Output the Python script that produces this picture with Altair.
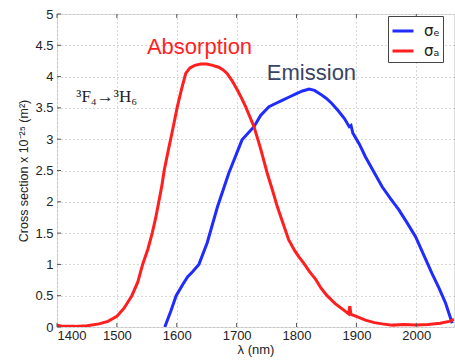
import altair as alt
import pandas as pd

# Absorption cross section (red)
abs_wl = [1400, 1410, 1430, 1450, 1470, 1485, 1500, 1512, 1525, 1535, 1543, 1552, 1559, 1565,
          1570, 1575, 1579, 1586, 1592, 1601, 1608, 1615, 1622, 1630, 1640, 1650, 1660, 1670,
          1677, 1684, 1692, 1701, 1708, 1715, 1729, 1740, 1751, 1760, 1768, 1778, 1787, 1797,
          1804, 1812, 1822, 1832, 1841, 1851, 1865, 1879, 1887, 1889, 1891, 1900, 1915, 1930,
          1943, 1960, 1980, 2000, 2020, 2040, 2055, 2063]
abs_val = [0.03, 0.01, 0.01, 0.02, 0.05, 0.09, 0.17, 0.30, 0.50, 0.72, 1.00, 1.25, 1.50, 1.75,
           2.00, 2.25, 2.50, 2.83, 3.10, 3.52, 3.80, 4.05, 4.14, 4.18, 4.20, 4.20, 4.18, 4.15,
           4.11, 4.05, 3.94, 3.79, 3.66, 3.52, 3.20, 2.85, 2.46, 2.18, 1.92, 1.64, 1.39, 1.22,
           1.12, 1.02, 0.88, 0.76, 0.62, 0.50, 0.37, 0.27, 0.21, 0.33, 0.20, 0.17, 0.11, 0.07,
           0.05, 0.03, 0.04, 0.03, 0.04, 0.06, 0.09, 0.12]

# Emission cross section (blue)
em_wl = [1580, 1590, 1599, 1610, 1618, 1626, 1637, 1651, 1668, 1687, 1709, 1729, 1740, 1754,
         1765, 1776, 1787, 1798, 1810, 1821, 1830, 1840, 1850, 1859, 1870, 1880, 1888, 1891,
         1894, 1905, 1915, 1929, 1943, 1957, 1971, 1985, 1999, 2012, 2026, 2038, 2049, 2060]
em_val = [0.00, 0.25, 0.50, 0.68, 0.80, 0.88, 1.00, 1.35, 1.92, 2.46, 2.99, 3.20, 3.38, 3.52,
          3.57, 3.62, 3.67, 3.72, 3.77, 3.80, 3.78, 3.72, 3.65, 3.57, 3.45, 3.33, 3.20, 3.22,
          3.10, 2.92, 2.72, 2.48, 2.24, 2.05, 1.87, 1.66, 1.44, 1.16, 0.86, 0.62, 0.38, 0.06]

series_names = ["σₑ", "σₐ"]
series_colors = ["#1f2bff", "#ff1f1f"]

x_ticks = [1400, 1500, 1600, 1700, 1800, 1900, 2000]
y_ticks = [0, 0.5, 1, 1.5, 2, 2.5, 3, 3.5, 4, 4.5, 5]

df = pd.concat([
    pd.DataFrame({"wl": em_wl, "cs": em_val, "series": series_names[0], "order": range(len(em_wl))}),
    pd.DataFrame({"wl": abs_wl, "cs": abs_val, "series": series_names[1], "order": range(len(abs_wl))}),
])

xscale = alt.Scale(domain=[1400, 2063], nice=False, zero=False)
yscale = alt.Scale(domain=[0, 5], nice=False)

xaxis = alt.Axis(values=x_ticks, format="d", title="λ (nm)", grid=True, gridDash=[1, 3],
                 gridColor="#b0b0b0", ticks=False, labelFontSize=13, labelPadding=2,
                 labelColor="#222", titleFontSize=13, titleFontWeight="normal",
                 titlePadding=1, titleColor="#222", domain=False, labelOverlap=False,
                 labelFont="Liberation Sans", titleFont="Liberation Sans")
yaxis = alt.Axis(values=y_ticks, format="~g", title="Cross section x 10⁻²⁵ (m²)",
                 grid=True, gridDash=[1, 3], gridColor="#b0b0b0", ticks=False,
                 labelFontSize=13, labelPadding=4, labelColor="#222",
                 labelOverlap=False, titleFontSize=12.5,
                 titleFontWeight="normal", titlePadding=4, titleColor="#222",
                 domain=False, labelFont="Liberation Sans",
                 titleFont="Liberation Sans")

lines = alt.Chart(df).mark_line(strokeWidth=3, clip=True).encode(
    x=alt.X("wl:Q", scale=xscale, axis=xaxis),
    y=alt.Y("cs:Q", scale=yscale, axis=yaxis),
    color=alt.Color("series:N",
                    scale=alt.Scale(domain=series_names, range=series_colors),
                    legend=alt.Legend(title=None, orient="none", legendX=331, legendY=2,
                                      symbolType="stroke", symbolSize=441,
                                      symbolStrokeWidth=3, labelFontSize=15,
                                      labelFont="DejaVu Sans", labelColor="#222",
                                      strokeColor="#444", fillColor="white", padding=3,
                                      rowPadding=0, labelOffset=9)),
    order="order:Q",
)

tick_x_df = pd.DataFrame({"t": x_ticks})
tick_y_df = pd.DataFrame({"t": y_ticks})

xt_bottom = alt.Chart(tick_x_df).mark_rule(color="#555", strokeWidth=1).encode(
    x=alt.X("t:Q", scale=xscale, axis=xaxis), y=alt.value(313), y2=alt.value(309))
xt_top = alt.Chart(tick_x_df).mark_rule(color="#555", strokeWidth=1).encode(
    x=alt.X("t:Q", scale=xscale, axis=xaxis), y=alt.value(0), y2=alt.value(4))
yt_left = alt.Chart(tick_y_df).mark_rule(color="#555", strokeWidth=1).encode(
    y=alt.Y("t:Q", scale=yscale, axis=yaxis), x=alt.value(0), x2=alt.value(4))

ann = pd.DataFrame({
    "wl": [1638, 1825],
    "cs": [4.47, 4.05],
    "label": ["Absorption", "Emission"],
    "col": ["#ff1f1f", "#3a4566"],
})
ann_text = alt.Chart(ann).mark_text(fontSize=22, font="Liberation Sans", baseline="middle",
                                    align="center").encode(
    x=alt.X("wl:Q", scale=xscale, axis=xaxis), y=alt.Y("cs:Q", scale=yscale, axis=yaxis),
    text="label:N", color=alt.Color("col:N", scale=None))

trans = pd.DataFrame({"wl": [1483], "cs": [3.67], "label": ["³F₄→³H₆"]})
trans_text = alt.Chart(trans).mark_text(fontSize=17, font="Liberation Serif", color="#222",
                                        baseline="middle", align="center").encode(
    x=alt.X("wl:Q", scale=xscale, axis=xaxis), y=alt.Y("cs:Q", scale=yscale, axis=yaxis),
    text="label:N")

chart = alt.layer(lines, xt_bottom, xt_top, yt_left, ann_text, trans_text).properties(
    width=397, height=313,
    autosize=alt.AutoSizeParams(type="none"),
    padding={"left": 57, "top": 14, "right": 1, "bottom": 36},
).configure_view(stroke="#555", strokeWidth=1.2).configure(background="white")

chart.save("out.html", embed_options={"renderer": "svg", "actions": False})
